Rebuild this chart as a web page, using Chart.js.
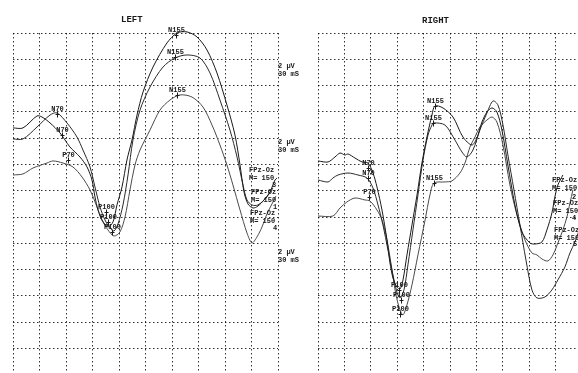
<!DOCTYPE html>
<html>
<head>
<meta charset="utf-8">
<script src="https://cdn.jsdelivr.net/npm/chart.js@4.4.1/dist/chart.umd.min.js"></script>
<style>
  html, body { margin: 0; padding: 0; background: #fff; }
  body { position: relative; width: 578px; height: 373px; overflow: hidden; }
  canvas { position: absolute; top: 0; }
  #left  { left: 0; }
  #right { left: 290px; }
  .t { position: absolute; font: bold 7px "Liberation Mono", "DejaVu Sans Mono", monospace; color: #1a1a1a; white-space: pre; line-height: 8px; }
  .title { font-size: 9px; }
</style>
</head>
<body>
<canvas id="left" width="290" height="373"></canvas>
<canvas id="right" width="300" height="373"></canvas>

<div class="t title" style="left:121px; top:16px;">LEFT</div>
<div class="t title" style="left:422px; top:17px;">RIGHT</div>

<div class="t" style="left:278px; top:62px;">2 µV
30 mS</div>
<div class="t" style="left:278px; top:138px;">2 µV
30 mS</div>
<div class="t" style="left:278px; top:248px;">2 µV
30 mS</div>

<div class="t" style="left:249px; top:166px;">FPz-Oz
M= 150</div>
<div class="t" style="left:272px; top:181px;">3</div>
<div class="t" style="left:251px; top:188px;">FPz-Oz
M= 150</div>
<div class="t" style="left:273px; top:203px;">1</div>
<div class="t" style="left:250px; top:209px;">FPz-Oz
M= 150</div>
<div class="t" style="left:273px; top:224px;">4</div>

<div class="t" style="left:552px; top:176px;">FPz-Oz
M= 150</div>
<div class="t" style="left:572px; top:193px;">2</div>
<div class="t" style="left:553px; top:199px;">FPz-Oz
M= 150</div>
<div class="t" style="left:572px; top:214px;">4</div>
<div class="t" style="left:554px; top:226px;">FPz-Oz
M= 150</div>
<div class="t" style="left:573px; top:240px;">5</div>

<script>
// time axis: 30 ms per division, amplitude: 2 µV per division (positive plotted down)
const X_TICKS = [0, 30, 60, 90, 120, 150, 180, 210, 240, 270, 300];
const Y_TICKS = [0, 2, 4, 6, 8, 10, 12, 14, 16, 18, 20, 22, 24];

// LEFT eye — [ms, µV]
const left1 = [[0,7.22],[11.3,7.22],[27.2,6.31],[32.8,6.39],[41.9,6.84],[53.2,7.60],[64.5,8.67],[75.8,9.43],
  [83.8,10.19],[89.4,11.18],[92.8,12.47],[96.2,13.46],[100.7,14.22],[107.5,14.75],[113.2,14.37],[117.7,13.08],
  [123.4,11.71],[129.0,9.66],[134.7,8.14],[140.4,6.24],[147.2,4.49],[158.5,2.59],[174.3,0.76],[185.6,0],
  [197.0,-0.08],[208.3,0.30],[219.6,1.29],[230.9,3.04],[242.2,5.48],[251.3,7.76],[257.0,10.04],[261.5,12.09],
  [266.0,13.00],[271.7,13.31],[277.3,13.16],[284.1,12.70],[290.9,12.09],[296.6,11.18],[298.8,11.03]];
const left2 = [[0,8.06],[11.3,8.06],[27.2,7.15],[41.9,6.24],[49.8,6.08],[61.1,6.84],[72.4,7.91],[79.2,8.90],
  [87.2,10.19],[92.8,11.71],[98.5,13.23],[104.1,14.22],[109.8,14.83],[114.3,15.06],[118.9,14.52],[124.5,13.08],
  [130.2,10.80],[135.8,8.14],[143.8,5.86],[155.1,4.11],[169.8,2.59],[183.4,1.90],[197.0,1.67],[211.7,1.90],
  [223.0,3.04],[234.3,5.10],[245.6,7.38],[253.6,9.43],[260.4,11.56],[264.9,12.70],[270.5,13.08],[277.3,13.08],
  [286.4,12.55],[294.3,11.79]];
const left3 = [[0,10.80],[11.3,10.72],[22.6,10.27],[38.5,9.89],[45.3,9.73],[56.6,9.89],[67.9,10.19],[78.1,10.95],
  [87.2,11.94],[95.1,13.23],[100.7,14.22],[107.5,14.98],[114.3,15.44],[121.1,15.13],[126.8,13.99],[132.4,11.94],
  [138.1,10.04],[143.8,8.90],[155.1,7.38],[166.4,5.86],[177.7,5.10],[189.0,4.71],[202.6,4.87],[215.1,5.63],
  [225.3,7.00],[234.3,8.52],[242.2,10.04],[249.0,11.56],[257.0,13.46],[264.9,15.21],[270.5,15.97],[276.2,15.51],
  [281.9,14.75],[287.5,13.76],[293.2,13.00],[297.7,12.40]];

// RIGHT eye — [ms, µV]
const right1 = [[0,9.73],[11.4,9.81],[19.3,9.43],[25.0,9.13],[30.7,9.28],[34.1,9.20],[42.0,9.51],[50.0,9.81],
  [56.8,9.89],[62.5,10.65],[67.0,11.71],[72.7,13.46],[78.4,15.74],[81.8,17.49],[85.2,18.63],[89.7,19.32],
  [93.2,19.47],[96.6,18.78],[101.1,16.88],[106.8,14.60],[112.5,12.32],[118.1,9.89],[123.8,7.91],[129.5,6.24],
  [132.9,5.55],[142.0,5.70],[153.4,6.39],[164.7,7.91],[174.9,8.52],[180.6,7.98],[186.3,6.77],[192.0,6.01],
  [197.7,5.70],[203.3,6.01],[209.0,7.38],[215.8,10.04],[223.8,13.08],[231.7,15.13],[240.8,15.97],[246.5,16.05],
  [254.5,15.89],[260.1,14.98],[265.8,13.69],[269.2,12.47],[272.6,11.56],[278.3,10.80]];
const right2 = [[0,11.18],[11.4,11.33],[17.0,11.03],[22.7,10.80],[34.1,10.65],[45.4,10.80],[55.7,11.03],[62.5,11.79],
  [68.2,13.08],[73.8,14.60],[79.5,16.50],[85.2,18.40],[89.7,19.70],[93.2,20.15],[97.7,19.54],[102.2,17.64],
  [107.9,14.98],[113.6,12.32],[119.3,9.66],[125.0,7.76],[129.5,7.00],[131.8,6.84],[144.3,7.00],[155.6,8.14],
  [163.6,9.05],[169.3,9.43],[176.1,8.90],[184.0,7.38],[192.0,6.08],[198.8,5.17],[204.5,5.48],[210.2,7.00],
  [215.8,9.28],[222.7,11.94],[229.5,14.60],[236.3,17.26],[243.1,19.54],[248.8,20.15],[257.9,20.08],[265.8,19.54],
  [272.6,18.78],[280.6,17.79],[286.3,16.73],[292.0,15.89],[297.6,14.83]];
const right3 = [[0,13.92],[17.0,13.92],[25.0,13.31],[32.9,12.85],[42.0,12.55],[53.4,12.70],[59.1,12.78],[67.0,13.46],
  [72.7,14.22],[78.4,15.74],[84.1,18.02],[88.6,19.92],[93.2,21.06],[96.6,21.44],[101.1,20.68],[106.8,19.16],
  [113.6,16.88],[121.7,14.22],[127.2,12.32],[131.8,11.41],[144.3,11.33],[152.2,11.25],[161.3,10.65],[167.0,9.89],
  [172.7,8.67],[178.4,7.91],[184.0,7.15],[192.0,6.62],[197.7,6.39],[203.3,6.77],[210.2,8.52],[218.1,11.56],
  [226.1,13.84],[235.2,15.74],[243.1,16.73],[248.8,16.88],[254.5,17.19],[261.3,17.34],[267.0,16.88],[272.6,15.97],
  [278.3,14.98],[282.9,13.99],[286.3,12.93],[289.7,11.94]];

// peak markers — [label, ms, µV]
const leftMarks = [['N155',184.5,0.15],['N155',183.4,1.82],['N155',185.6,4.71],
  ['N70',49.8,6.16],['N70',55.5,7.76],['P70',62.3,9.66],
  ['P100',105.3,13.61],['P100',107.5,14.37],['P100',112.1,15.13]];
const rightMarks = [['N155',132.9,5.55],['N155',130.6,6.84],['N155',131.8,11.41],
  ['N70',56.8,10.27],['N70',56.8,11.03],['P70',57.9,12.47],
  ['P100',92.0,19.54],['P100',94.3,20.30],['P100',93.2,21.37]];

const INK = '#1a1a1a';

function marksPlugin(marks) {
  return {
    id: 'peakMarks',
    afterDatasetsDraw(chart) {
      const { ctx, scales: { x, y } } = chart;
      ctx.save();
      ctx.strokeStyle = INK;
      ctx.fillStyle = INK;
      ctx.lineWidth = 1;
      ctx.font = 'bold 7px "Liberation Mono", monospace';
      ctx.textAlign = 'center';
      marks.forEach(([txt, ms, uv]) => {
        const px = Math.round(x.getPixelForValue(ms)) + 0.5;
        const py = Math.round(y.getPixelForValue(uv)) + 0.5;
        ctx.beginPath();
        ctx.moveTo(px, py - 3); ctx.lineTo(px, py + 3);
        ctx.moveTo(px - 2, py); ctx.lineTo(px + 2, py);
        ctx.stroke();
        ctx.fillText(txt, px, py - 4);
      });
      ctx.restore();
    },
  };
}

function makePanel(canvas, traces, marks, padLeft, padRight) {
  const greys = [INK, '#2a2a2a', '#4a4a4a'];
  const datasets = traces.map((t, i) => ({
    data: t.map(([x, y]) => ({ x, y })),
    borderColor: greys[i],
    borderWidth: 1,
    pointRadius: 0,
    tension: 0.3,
    fill: false,
    clip: false,
  }));
  const dotted = {
    color: 'rgba(0,0,0,0.8)',
    lineWidth: 1,
    drawTicks: false,
  };
  return new Chart(canvas, {
    type: 'line',
    data: { datasets },
    options: {
      responsive: false,
      animation: false,
      devicePixelRatio: 1,
      layout: { padding: { top: 33, left: padLeft, right: padRight, bottom: 0 } },
      plugins: { legend: { display: false }, tooltip: { enabled: false } },
      scales: {
        x: {
          type: 'linear', min: 0, max: 300,
          afterBuildTicks: ax => { ax.ticks = X_TICKS.map(v => ({ value: v })); },
          ticks: { display: false },
          grid: dotted,
          border: { display: false, dash: [1.5, 2.5] },
        },
        y: {
          type: 'linear', min: 0, max: 25.86, reverse: true,
          afterBuildTicks: ax => { ax.ticks = Y_TICKS.map(v => ({ value: v })); },
          ticks: { display: false },
          grid: dotted,
          border: { display: false, dash: [1.5, 2.5] },
        },
      },
    },
    plugins: [marksPlugin(marks)],
  });
}

makePanel(document.getElementById('left'), [left1, left2, left3], leftMarks, 13, 12);
makePanel(document.getElementById('right'), [right1, right2, right3], rightMarks, 28, 8);
</script>
</body>
</html>
